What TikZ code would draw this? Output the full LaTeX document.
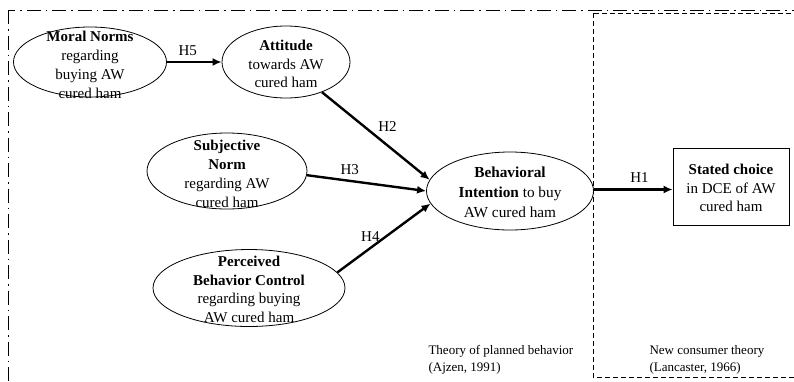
\documentclass[tikz,border=0pt]{standalone}
\usepackage{fontspec}
\setmainfont{Liberation Serif}
\usetikzlibrary{shapes.geometric,arrows.meta}
\begin{document}
\begin{tikzpicture}[x=1pt,y=-1pt,
  construct/.style={ellipse,draw,line width=0.8pt,inner sep=0pt},
  ctext/.style={inner sep=0pt,align=center,font=\fontsize{15}{18.8}\selectfont},
  outcome/.style={rectangle,draw,line width=0.8pt,inner sep=0pt},
  path/.style={line width=2.4pt,-{Latex[length=9pt,width=8pt]}},
  hyp/.style={font=\fontsize{15}{18}\selectfont},
  note/.style={font=\fontsize{13}{17}\selectfont,align=left,anchor=north west}]
\useasboundingbox (0,0) rectangle (794,381);
\begin{scope}
\clip (0,0) rectangle (794,381);
% outer frame: theory of planned behavior
\draw[line width=1pt,dash pattern=on 14pt off 5pt on 1.5pt off 5pt] (8,10) rectangle (820,400);
% inner frame: new consumer theory
\draw[line width=1pt,dash pattern=on 5pt off 3pt] (593,13) rectangle (820,377);
\end{scope}

% constructs (outline) and their labels
\node[construct,minimum width=153pt,minimum height=70pt] (mn) at (90,62) {};
\node[ctext] (mnt) at ([yshift=-3pt]mn.center)
  {\textbf{Moral Norms}\\regarding\\buying AW\\cured ham};
\node[construct,minimum width=128pt,minimum height=72pt] (att) at (286,62) {};
\node[ctext] (attt) at ([yshift=-2pt]att.center)
  {\textbf{Attitude}\\towards AW\\cured ham};
\node[construct,minimum width=160pt,minimum height=76pt] (sn) at (227,171) {};
\node[ctext] (snt) at ([yshift=-3pt]sn.center)
  {\textbf{Subjective}\\\textbf{Norm}\\regarding AW\\cured ham};
\node[construct,minimum width=192pt,minimum height=77pt] (pbc) at (249,288) {};
\node[ctext] (pbct) at ([yshift=-1.5pt]pbc.center)
  {\textbf{Perceived}\\\textbf{Behavior Control}\\regarding buying\\AW cured ham};
\node[construct,minimum width=167pt,minimum height=78pt] (bi) at (510,191) {};
\node[ctext,font=\fontsize{15.3}{20}\selectfont] (bit) at ([yshift=-1pt]bi.center)
  {\textbf{Behavioral}\\\textbf{Intention} to buy\\AW cured ham};
\node[outcome,minimum width=116pt,minimum height=77pt] (sc) at (731,186.5) {};
\node[ctext] (sct) at ([yshift=-1.5pt]sc.center)
  {\textbf{Stated choice}\\in DCE of AW\\cured ham};

% hypothesised paths
\draw[path] (mn.east) -- (att.west) node[hyp,pos=0.38,above=2pt] {H5};
\draw[path] (att.-40) -- (bi.172) node[hyp,pos=0.5,anchor=south west,xshift=-2pt] {H2};
\draw[path] (sn.-3) -- (bi.180) node[hyp,pos=0.36,above=2pt] {H3};
\draw[path] (pbc.10) -- (bi.189) node[hyp,pos=0.355,above=2pt] {H4};
\draw[path] ([yshift=1.5pt]bi.east) -- ([yshift=1.5pt]bi.east -| sc.west)
  node[hyp,pos=0.58,above=2pt] {H1};

\node[note] (tpb) at (425,342) {Theory of planned behavior\\(Ajzen, 1991)};
\node[note] (nct) at (646,342) {New consumer theory\\(Lancaster, 1966)};
\end{tikzpicture}
\end{document}
